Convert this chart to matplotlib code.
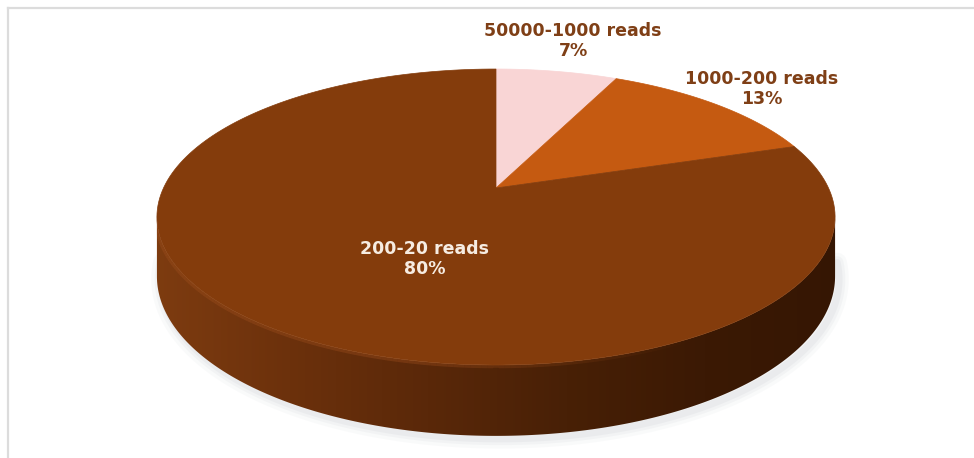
import numpy as np
import matplotlib.pyplot as plt
from matplotlib.patches import Polygon
from matplotlib.colors import LinearSegmentedColormap

# read-count bins and their share of sequences
categories = ["50000-1000 reads", "1000-200 reads", "200-20 reads"]
shares = [7, 13, 80]
top_colors = ["#f9d5d5", "#c55a11", "#843c0c"]
label_colors = ["#7f3f16", "#7f3f16", "#f6ece2"]

# perspective disk geometry (pixel space)
CX, CY = 496, 188      # projected centre of the disk
A, B = 332.5, 142.3    # horizontal / depth radii
K = 0.196              # perspective strength
DEPTH = 57             # thickness of the disk


def proj(t_deg, r=1.0, depth=0.0):
    t = np.radians(t_deg)
    u = r * np.sin(t)
    v = r * np.cos(t)
    den = 1 + K * v
    return CX + A * u / den, CY + (depth - B * v) / den


fig = plt.figure(figsize=(9.74, 4.58), dpi=100)
ax = fig.add_axes([0, 0, 1, 1])
ax.set_xlim(0, 974)
ax.set_ylim(458, 0)
ax.axis("off")

# chart frame
ax.plot([8, 974], [8, 8], color="#dcdcdc", lw=1.6, zorder=0)
ax.plot([8, 8], [8, 458], color="#dcdcdc", lw=1.6, zorder=0)

# side wall of the disk (front half between silhouette tangents)
t0 = np.degrees(np.arccos(-K))
ts = np.linspace(t0, 360 - t0, 300)
tx, ty = proj(ts)
bx, by = proj(ts[::-1], depth=DEPTH)
side = Polygon(np.column_stack([np.r_[tx, bx], np.r_[ty, by]]), closed=True,
               facecolor="none", edgecolor="none", zorder=2)
ax.add_patch(side)

# soft shadow under the disk
sx, sy = proj(np.linspace(t0 - 6, 360 - t0 + 6, 300), depth=DEPTH)
for lw, a in [(14, 0.05), (9, 0.07), (5, 0.09)]:
    ax.plot(sx + 4, sy + 3, color="#9aa3ad", lw=lw, alpha=a,
            solid_capstyle="round", zorder=1)

side_cmap = LinearSegmentedColormap.from_list(
    "side", ["#7e3c10", "#6c310c", "#5a2809", "#482006", "#3b1904", "#351603"])
grad = np.linspace(0, 1, 256)[None, :]
im = ax.imshow(grad, extent=[150, 845, 450, 180], cmap=side_cmap,
               aspect="auto", zorder=2, interpolation="bilinear")
im.set_clip_path(side)

# top face wedges, clockwise from 12 o'clock
bounds = np.r_[0, np.cumsum(shares)] / np.sum(shares) * 360
for i in range(len(shares)):
    arc = np.linspace(bounds[i], bounds[i + 1], 200)
    px, py = proj(arc)
    pts = np.column_stack([np.r_[CX, px], np.r_[CY, py]])
    ax.add_patch(Polygon(pts, closed=True, facecolor=top_colors[i],
                         edgecolor=top_colors[i], lw=0.5, zorder=3))

# outline of the whole disk (top face + wall) used to clip the rim light
ex, ey = proj(np.linspace(360 - t0, 360 + t0, 300))
body = Polygon(np.column_stack([np.r_[ex, tx[::-1], bx[::-1]],
                                np.r_[ey, ty[::-1], by[::-1]]]),
               closed=True, facecolor="none", edgecolor="none")
ax.add_patch(body)

# bevel highlight along the front rim, fading towards the right
hl = np.linspace(t0, 360 - t0, 200)
for j in range(len(hl) - 1):
    seg = hl[j:j + 2]
    hx, hy = proj(seg)
    fade = np.clip((hl[j] - 150) / 40, 0, 1)
    ln, = ax.plot(hx, hy + 0.5, color="#a2511f", lw=4, alpha=0.35 * fade,
                  solid_capstyle="butt", zorder=4)
    ln.set_clip_path(body)

# data labels
label_pos = [(573, 41), (762, 89), (425, 259)]
for i, name in enumerate(categories):
    x, y = label_pos[i]
    ax.text(x, y, f"{name}\n{shares[i]}%", ha="center", va="center",
            fontsize=12.5, fontweight="bold", family=["DejaVu Sans"],
            color=label_colors[i], linespacing=1.1, zorder=6)

fig.savefig("out.png", dpi=100)
